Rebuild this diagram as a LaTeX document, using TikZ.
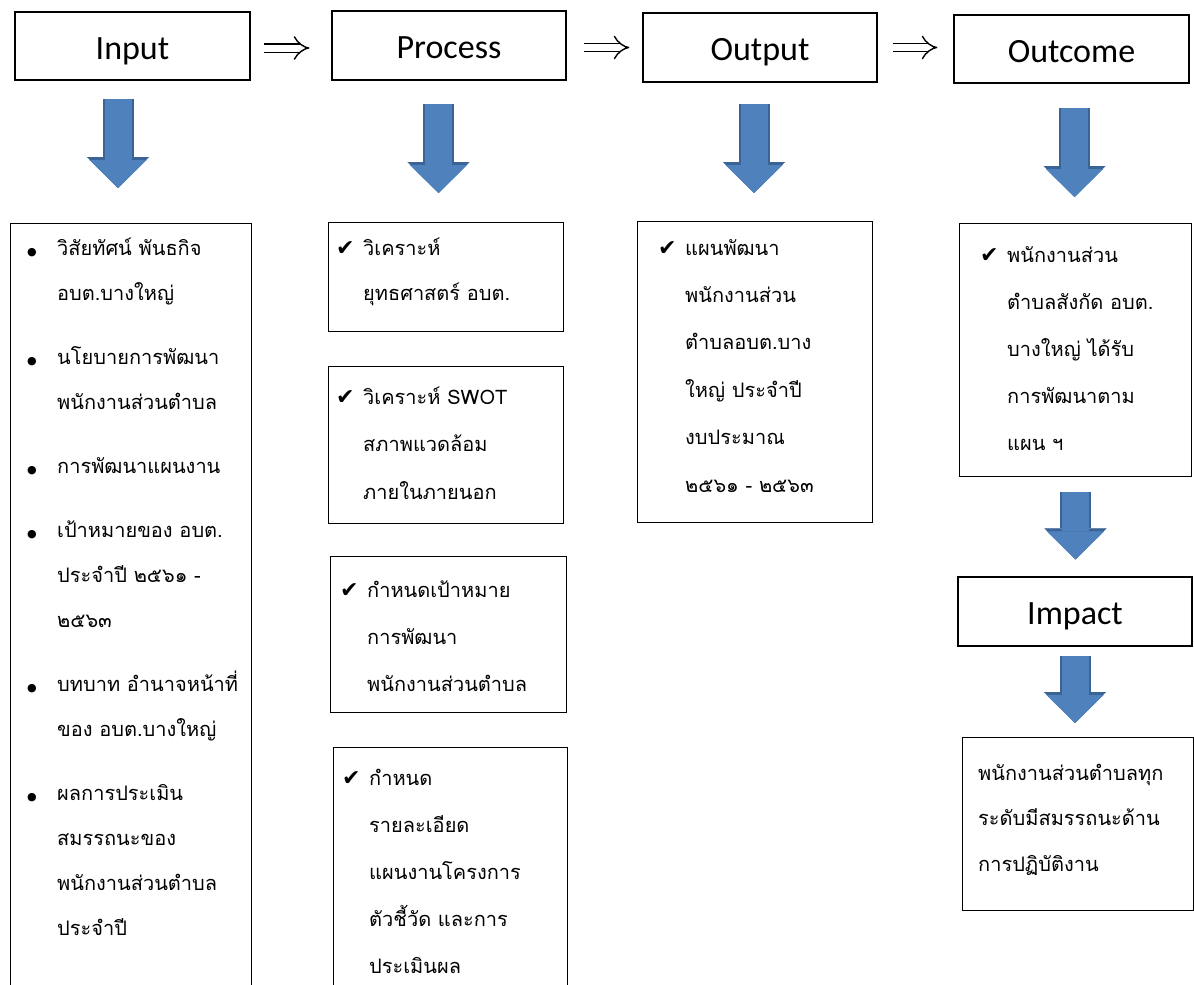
\documentclass[tikz,border=0pt]{standalone}
\usepackage{fontspec}
\usepackage{tikz}
\usetikzlibrary{arrows.meta,positioning}
\setmainfont{Carlito}
\newfontfamily\thaifont[Script=Thai]{Loma}
\newfontfamily\symfont{DejaVu Sans}
\definecolor{arrowblue}{HTML}{4F81BD}
\definecolor{arrowedge}{HTML}{3B6496}
\tikzset{>=latex}
\tikzset{
  head/.style={draw,line width=1.2pt,minimum width=235pt,minimum height=68pt,inner sep=0pt,
    text height=28pt,text depth=2pt,font=\fontsize{34}{34}\selectfont},
  panel/.style={draw,line width=1.2pt,anchor=north west,inner sep=0pt},
  thaitext/.style={anchor=base west,align=left,inner sep=0pt,font=\thaifont\fontsize{20}{#1}\selectfont},
  thaitext/.default=47,
  flow/.style={double,double distance=7pt,line width=1.4pt,-{Implies}},
  bigdown/.style={draw=arrowblue,line width=27pt,-{Triangle[length=28pt,width=57pt,line width=0.1pt]},
    preaction={draw=arrowedge,line width=31pt,-{Triangle[length=31pt,width=62pt,line width=0.1pt]}}}
}
\newcommand{\chk}{\makebox[27pt][l]{\symfont\fontsize{22}{22}\selectfont ✔}}
\newcommand{\bul}{\makebox[30pt][l]{\symfont\fontsize{11}{11}\selectfont ●}}
\newcommand{\ind}{\hspace*{30pt}}
\newcommand{\cind}{\hspace*{27pt}}

\begin{document}
\begin{tikzpicture}[x=1pt,y=-1pt]
\useasboundingbox (0,0) rectangle (1194,985);
\clip (0,0) rectangle (1194,985);
% header row
\node[head] (inp) at (132.5,46) {Input};
\node[head,minimum width=234pt,minimum height=69pt] (pro) at (449,45.5) {Process};
\node[head,minimum width=234pt,minimum height=69pt] (outp) at (760,47.5) {Output};
\node[head] (outc) at (1071.5,49) {Outcome};
\node[head,minimum width=234pt,minimum height=69pt] (imp) at (1075,611.5) {Impact};
\draw[flow,shorten <=13pt,shorten >=22pt] ([yshift=-2pt]inp.east) -- ([yshift=-2pt]inp.east -| pro.west);
\draw[flow,shorten <=17pt,shorten >=13pt] ([yshift=-2pt]pro.east) -- ([yshift=-2pt]pro.east -| outp.west);
\draw[flow,shorten <=15pt,shorten >=16pt] (outp.east) -- (outp.east -| outc.west);
% boxes
\node[panel,minimum width=241pt,minimum height=790pt] (inlist) at (10,223) {};
\node[panel,minimum width=235pt,minimum height=109pt] (anal) at (328,222) {};
\node[panel,minimum width=235pt,minimum height=157pt] (swot) at (328,366) {};
\node[panel,minimum width=236pt,minimum height=156pt] (goal) at (330,556) {};
\node[panel,minimum width=234pt,minimum height=260pt] (detail) at (333,747) {};
\node[panel,minimum width=235pt,minimum height=301pt] (plan) at (637,221) {};
\node[panel,minimum width=232pt,minimum height=253pt] (staff) at (959,223) {};
\node[panel,minimum width=231pt,minimum height=173pt] (skill) at (962,737) {};
% block arrows
\draw[bigdown,shorten <=18pt,shorten >=35pt] (inp.south -| 118,0) -- (inlist.north -| 118,0);
\draw[bigdown,shorten <=23pt,shorten >=29pt] (pro.south -| 438.5,0) -- (anal.north -| 438.5,0);
\draw[bigdown,shorten <=21pt,shorten >=28pt] (outp.south -| 754,0) -- (plan.north -| 754,0);
\draw[bigdown,shorten <=24pt,shorten >=26pt] (outc.south -| 1074.5,0) -- (staff.north -| 1074.5,0);
\draw[bigdown,shorten <=15pt,shorten >=17pt] (staff.south -| 1075.5,0) -- (imp.north -| 1075.5,0);
\draw[bigdown,shorten <=9pt,shorten >=14pt] (imp.south -| 1075,0) -- (skill.north -| 1075,0);
% texts (placed at the baseline of their last line)
\node[thaitext=45] (intext) at (27,935) {\bul วิสัยทัศน์ พันธกิจ\\\ind อบต.บางใหญ่\\[19pt]
  \bul นโยบายการพัฒนา\\\ind พนักงานส่วนตำบล\\[19pt]
  \bul การพัฒนาแผนงาน\\[19pt]
  \bul เป้าหมายของ อบต.\\\ind ประจำปี ๒๕๖๑ -\\\ind ๒๕๖๓\\[19pt]
  \bul บทบาท อำนาจหน้าที่\\\ind ของ อบต.บางใหญ่\\[19pt]
  \bul ผลการประเมิน\\\ind สมรรถนะของ\\\ind พนักงานส่วนตำบล\\\ind ประจำปี};
\node[thaitext=45] (analtext) at (336,300) {\chk วิเคราะห์\\\cind ยุทธศาสตร์ อบต.};
\node[thaitext=47.5] (swottext) at (336,499) {\chk วิเคราะห์ SWOT\\\cind สภาพแวดล้อม\\\cind ภายในภายนอก};
\node[thaitext] (goaltext) at (340,691) {\chk กำหนดเป้าหมาย\\\cind การพัฒนา\\\cind พนักงานส่วนตำบล};
\node[thaitext] (detailtext) at (342,973) {\chk กำหนด\\\cind รายละเอียด\\\cind แผนงานโครงการ\\\cind ตัวชี้วัด และการ\\\cind ประเมินผล};
\node[thaitext=47.4] (plantext) at (658,492) {\chk แผนพัฒนา\\\cind พนักงานส่วน\\\cind ตำบลอบต.บาง\\\cind ใหญ่ ประจำปี\\\cind งบประมาณ\\\cind ๒๕๖๑ - ๒๕๖๓};
\node[thaitext] (stafftext) at (980,450) {\chk พนักงานส่วน\\\cind ตำบลสังกัด อบต.\\\cind บางใหญ่ ได้รับ\\\cind การพัฒนาตาม\\\cind แผน ฯ};
\node[thaitext=45.5] (skilltext) at (978,871) {พนักงานส่วนตำบลทุก\\ระดับมีสมรรถนะด้าน\\การปฏิบัติงาน};
\end{tikzpicture}
\end{document}
